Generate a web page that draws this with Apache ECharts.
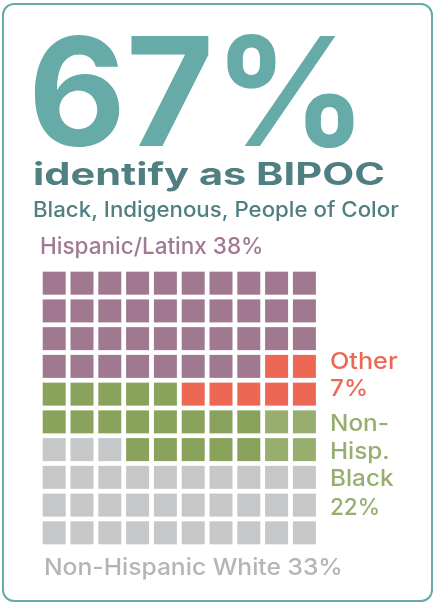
<!DOCTYPE html>
<html><head><meta charset="utf-8">
<script src="https://cdn.jsdelivr.net/npm/echarts@6/dist/echarts.min.js"></script>
<style>html,body{margin:0;padding:0;background:#fff}#c{width:435px;height:604px}</style>
</head><body><div id="c"></div>
<script>
// ---- data ----
var headline = '67%';
var headlineText = 'identify as BIPOC';
var subText = 'Black, Indigenous, People of Color';
var categories = ['Hispanic/Latinx', 'Other', 'Non-Hisp. Black', 'Non-Hisp. Black (light)', 'Non-Hispanic White'];
var codes = ['H', 'O', 'B', 'L', 'W'];
var shares = [38, 7, 22, 33];
// waffle layout: one row per string, one cell per character (10 x 10 = 100%)
var waffleRows = [
  'HHHHHHHHHH',
  'HHHHHHHHHH',
  'HHHHHHHHHH',
  'HHHHHHHHOO',
  'BBBBBOOOOO',
  'BBBBBBBBLL',
  'WWWBBBBBLL',
  'WWWWWWWWWW',
  'WWWWWWWWWW',
  'WWWWWWWWWW'
];

// ---- styles ----
var cellColors = ['#A07890', '#EC6855', '#8AA35C', '#97AE6E', '#C6C7C9'];
var FONT = 'Inter, "Noto Sans", sans-serif';
function bl(baseline, fs) { return baseline - 0.31 * fs; }

var chart = echarts.init(document.getElementById('c'), null, { renderer: 'canvas' });

var series = codes.map(function (code, ci) {
  var d = [];
  waffleRows.forEach(function (row, r) {
    for (var c = 0; c < row.length; c++) if (row[c] === code) d.push([c, r]);
  });
  return {
    type: 'scatter', name: categories[ci], data: d,
    symbol: 'rect', symbolSize: 23, silent: true,
    itemStyle: { color: cellColors[ci], opacity: 1 }
  };
});

function txt(x, y, text, fs, color, weight, sx) {
  return { type: 'text', x: x, y: y, scaleX: sx || 1, silent: true,
    style: { text: text, fontSize: fs, fontFamily: FONT, fontWeight: weight || 500,
      fill: color, verticalAlign: 'middle', align: 'left' } };
}

var SIDE = 1.08;
chart.setOption({
  animation: false,
  grid: { left: 40.3, top: 269.3, width: 278, height: 277.4 },
  xAxis: { type: 'value', min: -0.5, max: 9.5, show: false },
  yAxis: { type: 'value', min: -0.5, max: 9.5, inverse: true, show: false },
  series: series,
  graphic: [
    { type: 'rect', shape: { x: 3, y: 4, width: 429, height: 597, r: 11 },
      style: { fill: 'none', stroke: '#66ABA7', lineWidth: 2 }, silent: true },
    txt(28, bl(147, 151), headline, 151, '#66ABA7', 'bold'),
    txt(33, bl(185, 31), headlineText, 31, '#4F7F80', 'bold', 1.34),
    txt(33, bl(217, 21), subText, 21, '#4F7F80', 500, 1.06),
    txt(40, bl(254.7, 22.5), categories[0] + ' ' + shares[0] + '%', 22.5, '#A07A93', 500),
    txt(330, bl(369.3, 22.5), categories[1], 22.5, '#EC6855', 500, 1.12),
    txt(330, bl(396.7, 22.5), shares[1] + '%', 22.5, '#EC6855', 500, SIDE),
    txt(330, bl(431.7, 22.5), 'Non-', 22.5, '#97AE6E', 500, SIDE),
    txt(330, bl(459, 22.5), 'Hisp.', 22.5, '#97AE6E', 500, SIDE),
    txt(330, bl(486.7, 22.5), 'Black', 22.5, '#97AE6E', 500, SIDE),
    txt(330, bl(515, 22.5), shares[2] + '%', 22.5, '#97AE6E', 500, 1.0),
    txt(44, bl(575, 23), categories[4] + ' ' + shares[3] + '%', 23, '#B4B5B7', 500, 1.07)
  ]
});
</script></body></html>
